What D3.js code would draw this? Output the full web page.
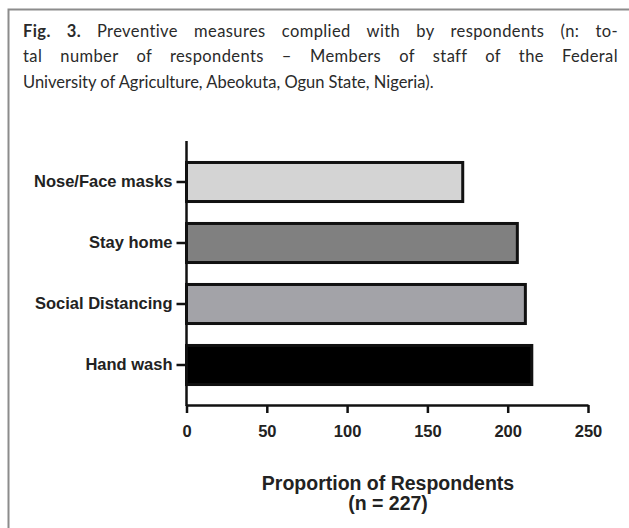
<!DOCTYPE html>
<html>
<head>
<meta charset="utf-8">
<script src="https://cdn.jsdelivr.net/npm/d3@7"></script>
<style>
  html, body { margin: 0; padding: 0; background: #fff; }
  svg { display: block; }
</style>
</head>
<body>
<svg id="chart" width="629" height="528"></svg>
<script>
const categories = ["Nose/Face masks", "Stay home", "Social Distancing", "Hand wash"];
const values = [172, 206, 211, 215];
const barColors = ["#d4d4d4", "#808080", "#a3a3a8", "#000000"];
const xTicks = [0, 50, 100, 150, 200, 250];
const titleLines = [
  "Preventive measures complied with by respondents (n: to-",
  "tal number of respondents – Members of staff of the Federal",
  "University of Agriculture, Abeokuta, Ogun State, Nigeria)."
];
const axisTitle = ["Proportion of Respondents", "(n = 227)"];

const svg = d3.select("#chart");

// frame (top + left)
svg.append("path")
  .attr("d", "M8.5,528 L8.5,9.5 L629,9.5")
  .attr("fill", "none").attr("stroke", "#8c8c8c").attr("stroke-width", 2);

// caption
const capFont = "Lato, 'Open Sans', sans-serif";
const cap = svg.append("g").attr("font-family", capFont).attr("font-size", 16.5).attr("fill", "#2a2a2a");
const t1 = cap.append("text").attr("x", 23).attr("y", 36.5);
t1.append("tspan").attr("font-weight", "bold").text("Fig. 3. ");
t1.append("tspan").text(titleLines[0]);
const t2 = cap.append("text").attr("x", 23).attr("y", 62).text(titleLines[1]);
cap.append("text").attr("x", 23).attr("y", 87.5).text(titleLines[2]);
// justify lines 1 and 2 to the full column width: widen word spaces, plus a little letter spacing
[[t1, "Fig. 3. " + titleLines[0]], [t2, titleLines[1]]].forEach(([t, s]) => {
  const ls = 0.4;
  t.attr("letter-spacing", ls);
  const w = t.node().getComputedTextLength();
  const spaces = (s.match(/ /g) || []).length;
  t.attr("word-spacing", (595 - w) / spaces);
});

// chart
const x = d3.scaleLinear().domain([0, 250]).range([186.5, 588]);
const y = d3.scaleBand().domain(categories).range([151.5, 395.5]).paddingInner(0.36).paddingOuter(0.18);

const labelFont = "'Liberation Sans', Arial, sans-serif";
const g = svg.append("g").attr("font-family", labelFont)
  .attr("font-weight", "bold").attr("font-size", 16.5).attr("fill", "#222");

g.selectAll("rect.bar").data(categories).join("rect")
  .attr("class", "bar")
  .attr("x", x(0))
  .attr("y", d => y(d))
  .attr("width", (d, i) => x(values[i]) - x(0))
  .attr("height", y.bandwidth())
  .attr("fill", (d, i) => barColors[i])
  .attr("stroke", "#111").attr("stroke-width", 3);

// y axis
const yAxis = d3.axisLeft(y).tickSize(10).tickPadding(4);
const yg = g.append("g").attr("transform", `translate(${x(0)},0)`).call(yAxis);
yg.select(".domain").remove();
yg.append("line").attr("x1", 0).attr("x2", 0).attr("y1", 141).attr("y2", 406)
  .attr("stroke", "#111").attr("stroke-width", 2.5);
yg.selectAll(".tick line").attr("stroke", "#111").attr("stroke-width", 2.5);
yg.selectAll(".tick text").attr("fill", "#222").attr("font-size", 16.5)
  .attr("font-family", labelFont).attr("font-weight", "bold");

// x axis
const xAxis = d3.axisBottom(x).tickValues(xTicks).tickSize(8).tickPadding(12).tickSizeOuter(0);
const xg = g.append("g").attr("transform", "translate(0,405)").call(xAxis);
xg.select(".domain").attr("stroke", "#111").attr("stroke-width", 2.5);
xg.selectAll(".tick line").attr("stroke", "#111").attr("stroke-width", 2.5);
xg.selectAll(".tick text").attr("fill", "#222").attr("font-size", 16.5)
  .attr("font-family", labelFont).attr("font-weight", "bold");

// axis title
g.append("text").attr("x", 388).attr("y", 490).attr("text-anchor", "middle")
  .attr("font-size", 19.5).text(axisTitle[0]);
g.append("text").attr("x", 388).attr("y", 510).attr("text-anchor", "middle")
  .attr("font-size", 19.5).text(axisTitle[1]);
</script>
</body>
</html>
